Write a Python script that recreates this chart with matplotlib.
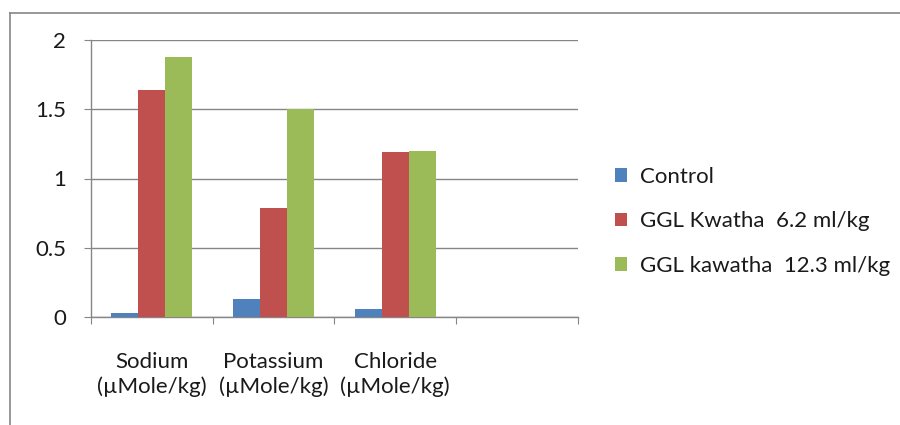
import matplotlib
matplotlib.use("Agg")
import matplotlib.pyplot as plt
from matplotlib.lines import Line2D
import numpy as np

categories = ["Sodium\n(\u00b5Mole/kg)", "Potassium\n(\u00b5Mole/kg)", "Chloride\n(\u00b5Mole/kg)", ""]
series_names = ["Control", "GGL Kwatha  6.2 ml/kg", "GGL kawatha  12.3 ml/kg"]
control = [0.03, 0.13, 0.06, np.nan]
kwatha_62 = [1.64, 0.79, 1.19, np.nan]
kawatha_123 = [1.88, 1.50, 1.20, np.nan]
yticks = [0, 0.5, 1, 1.5, 2]

colors = ["#4F81BD", "#C0504D", "#9BBB59"]
plt.rcParams['font.family'] = ['Lato', 'DejaVu Sans']
FS = 16
TXT = "#1a1a1a"

fig = plt.figure(figsize=(9, 4.25), dpi=100)
ax = fig.add_axes([0.101, 0.254, 0.541, 0.652])

x = np.arange(len(categories))
w = 0.222
for i, (vals, name, c) in enumerate(zip([control, kwatha_62, kawatha_123], series_names, colors)):
    ax.bar(x + (i - 1) * w, vals, width=w, color=c, label=name, zorder=3)

ax.set_xlim(-0.5, len(categories) - 0.5)
ax.set_ylim(0, 2)
ax.set_yticks(yticks)
ax.set_yticklabels(["0", "0.5", "1", "1.5", "2"])
ax.yaxis.grid(True, color="#868686", linewidth=1, zorder=0)
ax.set_axisbelow(True)

ax.set_xticks(np.arange(len(categories) + 1) - 0.5)
ax.set_xticklabels([])
ax.set_xticks(x, minor=True)
ax.set_xticklabels(categories, minor=True, fontsize=FS, color=TXT, linespacing=1.3)
ax.tick_params(axis='x', which='minor', length=0, pad=25)
ax.tick_params(axis='x', which='major', length=5, color="#868686", direction='out')
ax.tick_params(axis='y', length=5, color="#868686", direction='out', labelsize=FS, labelcolor=TXT, pad=13)

for s in ["top", "right"]:
    ax.spines[s].set_visible(False)
for s in ["left", "bottom"]:
    ax.spines[s].set_color("#868686")
    ax.spines[s].set_linewidth(1)

ax.legend(loc="center left", bbox_to_anchor=(1.035, 0.345), frameon=False, fontsize=FS,
          handlelength=0.55, handleheight=0.55, handletextpad=0.6, labelspacing=1.1,
          labelcolor=TXT)

# outer chart border
fig.add_artist(Line2D([0.011, 0.011], [0.0, 0.969], color="#868686", lw=1.2, transform=fig.transFigure))
fig.add_artist(Line2D([0.011, 1.0], [0.969, 0.969], color="#868686", lw=1.2, transform=fig.transFigure))

fig.savefig("out.png", dpi=100)
